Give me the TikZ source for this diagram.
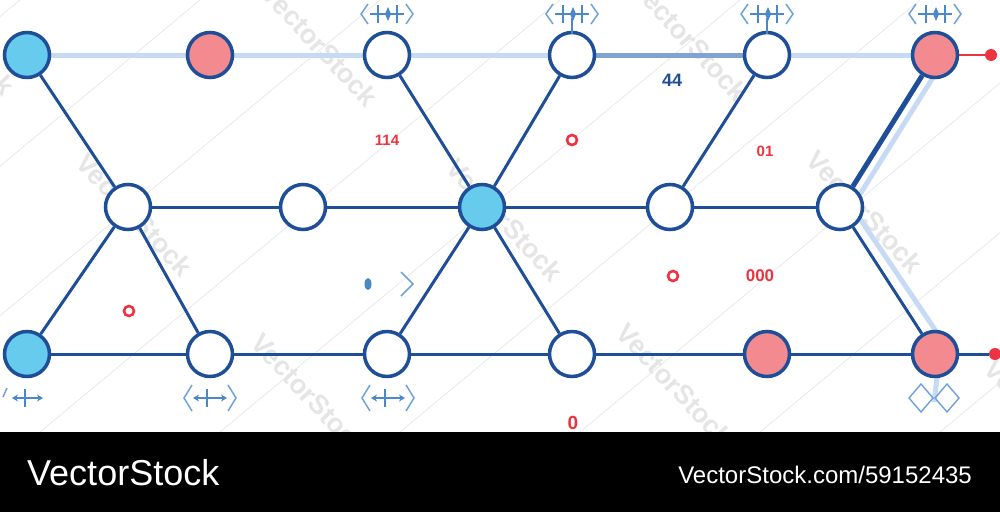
\documentclass[tikz,border=0pt]{standalone}
\usepackage{fontspec}
\setmainfont{Liberation Sans}
\usetikzlibrary{calc,arrows.meta,shapes.geometric}
\definecolor{edge}{HTML}{1F4E98}
\definecolor{cyanf}{HTML}{66CBEC}
\definecolor{pinkf}{HTML}{F28A8F}
\definecolor{pale}{HTML}{C7DAF3}
\definecolor{midb}{HTML}{7FA3D3}
\definecolor{glyph}{HTML}{4A88C8}
\definecolor{glyphl}{HTML}{6FA2DA}
\definecolor{redt}{HTML}{EE3340}
\pgfdeclarelayer{bg}
\pgfdeclarelayer{wmk}
\pgfsetlayers{wmk,bg,main}
\tikzset{
 nd/.style={circle,draw=edge,line width=3.5pt,minimum size=45pt,inner sep=0pt,fill=white},
 cy/.style={nd,fill=cyanf},
 pk/.style={nd,fill=pinkf},
 link/.style={draw=edge,line width=3pt},
 palelink/.style={draw=pale,line width=5pt},
 redlab/.style={text=redt,font=\bfseries\fontsize{15}{15}\selectfont,inner sep=0pt},
 ring/.style={circle,draw=redt,line width=2.6pt,minimum size=10pt,inner sep=0pt},
 wm/.style={text=black!10,font=\bfseries\fontsize{27}{27}\selectfont,rotate=-47,inner sep=0pt},
 wline/.style={draw=black!10,line width=0.6pt},
 topsym/.pic={
  \draw[glyphl,line width=1.5pt] (-19,-10) -- (-26,0) -- (-19,10);
  \draw[glyphl,line width=1.5pt] (19,-10) -- (26,0) -- (19,10);
  \draw[glyph,line width=1.8pt] (-17,0) -- (17,0);
  \draw[glyph,line width=1.6pt] (-9,-9) -- (-9,9) (10,-9) -- (10,9);
  \fill[glyph] (1,-7) -- (4,0) -- (1,7) -- (-2,0) -- cycle;
 },
 stemsym/.pic={
  \draw[glyph,line width=1.4pt] (0,0) -- (0,16);
 },
 botsym/.pic={
  \draw[glyphl,line width=1.5pt] (-18,-13) -- (-26,0) -- (-18,13);
  \draw[glyphl,line width=1.5pt] (18,-13) -- (26,0) -- (18,13);
  \draw[glyph,line width=2pt,{Stealth[length=6pt,width=7pt]}-{Stealth[length=6pt,width=7pt]}] (-17,0) -- (17,0);
  \draw[glyph,line width=1.6pt] (-3,-9) -- (-3,9);
 },
}
\begin{document}
\begin{tikzpicture}[x=1pt,y=-1pt]
\useasboundingbox (0,0) rectangle (1000,512);

% paper and watermark
\begin{pgfonlayer}{wmk}
\fill[white] (0,0) rectangle (1000,512);
\begin{scope}
\clip (0,0) rectangle (1000,432);
\foreach \c in {-500,-320,-140,40,220,400,580,760,940}{
  \draw[wline] (\c,432) -- ++(520,-432);
}
\foreach \p in {(320,45),(135,215),(505,220),(865,212),(690,40),(310,395),(675,385),(-43,34),(1043,421)}{
  \node[wm] at \p {VectorStock};
}
\end{scope}
\end{pgfonlayer}

% nodes
\node[cy] (T1) at (27,55) {};
\node[pk] (T2) at (210,55) {};
\node[nd] (T3) at (387,55) {};
\node[nd] (T4) at (572,55) {};
\node[nd] (T5) at (767,55) {};
\node[pk] (T6) at (935,55) {};
\node[nd] (M1) at (128,207) {};
\node[nd] (M2) at (303,207) {};
\node[cy] (M3) at (482,207) {};
\node[nd] (M4) at (670,207) {};
\node[nd] (M5) at (840,207) {};
\node[cy] (B1) at (27,354) {};
\node[nd] (B2) at (210,354) {};
\node[nd] (B3) at (387,354) {};
\node[nd] (B4) at (572,354) {};
\node[pk] (B5) at (767,354) {};
\node[pk] (B6) at (935,354) {};
\node[circle,fill=redt,minimum size=12pt,inner sep=0pt] (R1) at (991,55) {};
\node[circle,fill=redt,minimum size=12pt,inner sep=0pt] (R2) at (995,354) {};

\begin{pgfonlayer}{bg}
% top pale line
\draw[palelink] (T1) -- (T2);
\draw[palelink] (T2) -- (T3);
\draw[palelink] (T3) -- (T4);
\draw[draw=midb,line width=5pt] (T4) -- (T5);
\draw[palelink] (T5) -- (T6);
% pale parallels on the right
\draw[palelink] ($(T6)+(12,0)$) -- ($(M5)+(12,0)$);
\draw[palelink] ($(M5)+(12,0)$) -- ($(B6)+(7,-14)$) -- ($(B6)+(-1,48)$);
% dark links
\draw[link] (T1) -- (M1);
\draw[link] (T3) -- (M3);
\draw[link] (T4) -- (M3);
\draw[link] (T5) -- (M4);
\draw[link,line width=5pt] (T6) -- (M5);
\draw[link] (M1) -- (M2);
\draw[link] (M2) -- (M3);
\draw[link] (M3) -- (M4);
\draw[link] (M4) -- (M5);
\draw[link] (M1) -- (B1);
\draw[link] (M1) -- (B2);
\draw[link] (M3) -- (B3);
\draw[link] (M3) -- (B4);
\draw[link] (M5) -- (B6);
\draw[link] (B1) -- (B2);
\draw[link] (B2) -- (B3);
\draw[link] (B3) -- (B4);
\draw[link] (B4) -- (B5);
\draw[link] (B5) -- (B6);
\draw[link] (B6) -- (R2);
\draw[draw=redt,line width=2.6pt] (T6) -- (R1);
\end{pgfonlayer}

% glyphs
\pic at (387,14) {topsym};
\pic at (572,14) {topsym};
\pic at (572,18) {stemsym};
\pic at (767,14) {topsym};
\pic at (767,18) {stemsym};
\pic at (935,14) {topsym};
\pic at (210,398) {botsym};
\pic at (388,398) {botsym};
% partial symbol under B1
\draw[glyphl,line width=1.5pt] (7,388) -- (3,397);
\draw[glyph,line width=2pt,{Stealth[length=6pt,width=7pt]}-{Stealth[length=6pt,width=7pt]}] (12,398) -- (43,398);
\draw[glyph,line width=1.6pt] (25,389) -- (25,407);
% diamonds under B6
\draw[glyphl,line width=1.4pt] (921,384) -- (933,398) -- (921,412) -- (909,398) -- cycle;
\draw[glyphl,line width=1.4pt] (947,384) -- (959,398) -- (947,412) -- (935,398) -- cycle;

% labels
\node[redlab] (L114) at (387,140) {114};
\node[text=edge,font=\bfseries\fontsize{18}{18}\selectfont,inner sep=0pt] (L44) at (672,80) {44};
\node[ring] (O1) at (572,140) {};
\node[redlab] (L01) at (765,151) {01};
\node[ring] (O2) at (129,311) {};
\node[ring] (O3) at (673,276) {};
\node[redlab,font=\bfseries\fontsize{17}{17}\selectfont] (L000) at (760,276) {000};
\node[redlab,font=\bfseries\fontsize{19}{19}\selectfont] (L0) at (573,423) {0};
\node[ellipse,fill=glyph,minimum width=7pt,minimum height=12pt,inner sep=0pt] (Dot) at (368,284) {};
\draw[glyphl,line width=1.5pt] (401,272) -- (413,284) -- (401,296);

% banner
\fill[black] (0,432) rectangle (1000,512);
\node[anchor=base west,text=white,font=\fontsize{36}{36}\selectfont,inner sep=0pt] (BL) at (27,485) {VectorStock};
\node[anchor=base east,text=white,font=\fontsize{24}{24}\selectfont,inner sep=0pt] (BR) at (972,483) {VectorStock.com/59152435};
\end{tikzpicture}
\end{document}
